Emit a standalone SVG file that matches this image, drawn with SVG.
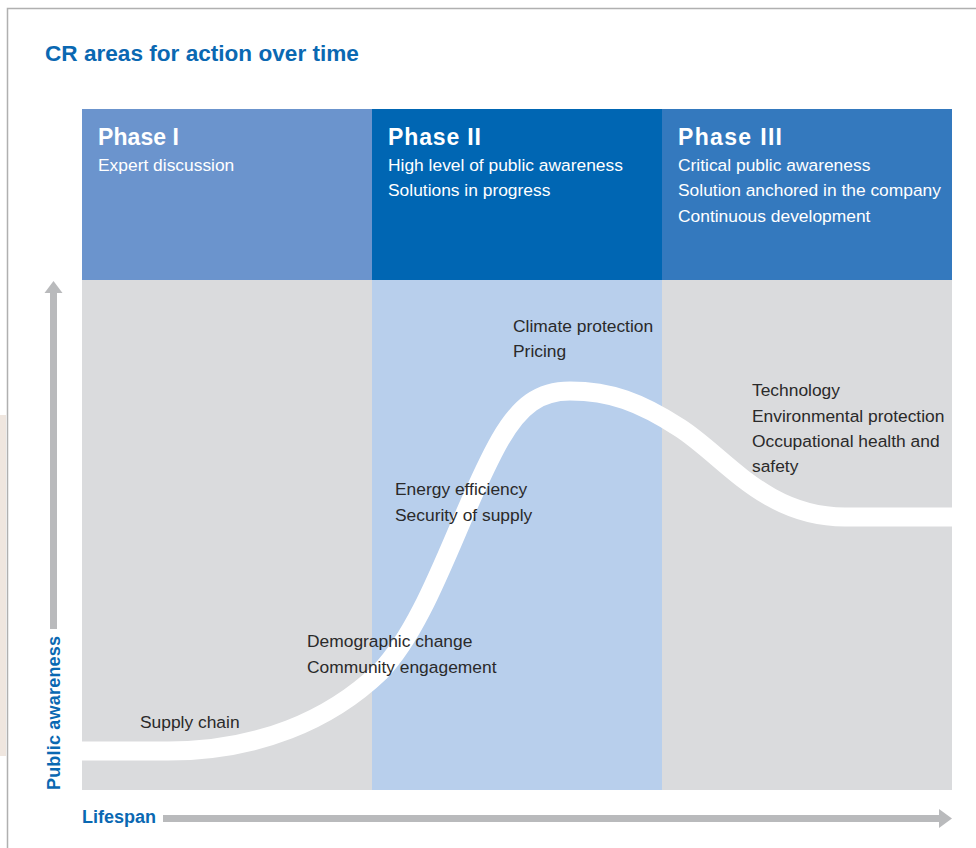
<svg xmlns="http://www.w3.org/2000/svg" width="976" height="848" viewBox="0 0 976 848">
<style>
.title{font-family:"Liberation Sans",Arial,sans-serif;font-weight:bold;fill:#0a68b2}
.ph{font-family:"Liberation Sans",Arial,sans-serif;font-weight:bold;font-size:23px;fill:#ffffff}
.hd{font-family:"Liberation Sans",Arial,sans-serif;font-size:17.4px;fill:#ffffff}
.lb{font-family:"Liberation Sans",Arial,sans-serif;font-size:17.4px;fill:#2a2a2a}
.ax{font-family:"Liberation Sans",Arial,sans-serif;font-weight:bold;font-size:18px;fill:#0a68b2}
.arrow{fill:#b9babc}
</style>
<rect x="0" y="0" width="976" height="848" fill="#ffffff"/>
<rect x="0" y="415" width="6" height="341" fill="#efe6df"/>
<path d="M7.5,848 L7.5,8.5 L976,8.5" fill="none" stroke="#b0b0b0" stroke-width="1.5"/>
<text class="title" x="45" y="60.5" font-size="22.6">CR areas for action over time</text>

<g id="chart-bg">
<rect x="82" y="280" width="870" height="510" fill="#dadbdd"/>
<rect x="372" y="280" width="290" height="510" fill="#b8cfec"/>
</g>

<g id="phase1">
<rect x="82" y="109" width="290" height="171" fill="#6b94cd"/>
<text class="ph" x="98" y="144.5" textLength="81" lengthAdjust="spacing">Phase I</text>
<text class="hd" x="98" y="170.5">Expert discussion</text>
</g>
<g id="phase2">
<rect x="372" y="109" width="290" height="171" fill="#0066b3"/>
<text class="ph" x="388" y="144.5" textLength="93" lengthAdjust="spacing">Phase II</text>
<text class="hd" x="388" y="170.5">High level of public awareness</text>
<text class="hd" x="388" y="196">Solutions in progress</text>
</g>
<g id="phase3">
<rect x="662" y="109" width="290" height="171" fill="#3479be"/>
<text class="ph" x="678" y="144.5" textLength="104" lengthAdjust="spacing">Phase III</text>
<text class="hd" x="678" y="170.5">Critical public awareness</text>
<text class="hd" x="678" y="196">Solution anchored in the company</text>
<text class="hd" x="678" y="221.5">Continuous development</text>
</g>

<g id="connectors">
<path id="curve" d="M82,751 L168,751 C258,751 330,720 380,672 C430,620 460,510 500,440 C520,405 540,391 570,391 C610,391 640,402 680,428 C725,457 765,517 845,517 L952,517" fill="none" stroke="#ffffff" stroke-width="19"/>
<g id="y-axis">
<rect class="arrow" x="50" y="292" width="7" height="337"/>
<polygon class="arrow" points="44.5,293 53.5,281 62.5,293"/>
</g>
<g id="x-axis">
<rect class="arrow" x="163" y="815" width="777" height="7"/>
<polygon class="arrow" points="939,809 952,818.5 939,828"/>
</g>
</g>

<g id="label-supply-chain"><text class="lb" x="140" y="727.5">Supply chain</text></g>
<g id="label-demographic">
<text class="lb" x="307" y="647">Demographic change</text>
<text class="lb" x="307" y="673">Community engagement</text>
</g>
<g id="label-energy">
<text class="lb" x="395" y="495">Energy efficiency</text>
<text class="lb" x="395" y="521">Security of supply</text>
</g>
<g id="label-climate">
<text class="lb" x="513" y="331.5">Climate protection</text>
<text class="lb" x="513" y="357">Pricing</text>
</g>
<g id="label-technology">
<text class="lb" x="752" y="396">Technology</text>
<text class="lb" x="752" y="421.5">Environmental protection</text>
<text class="lb" x="752" y="447">Occupational health and</text>
<text class="lb" x="752" y="472">safety</text>
</g>

<text class="ax" transform="translate(60,790) rotate(-90)" textLength="154" lengthAdjust="spacing">Public awareness</text>
<text class="ax" x="82" y="823">Lifespan</text>
</svg>
